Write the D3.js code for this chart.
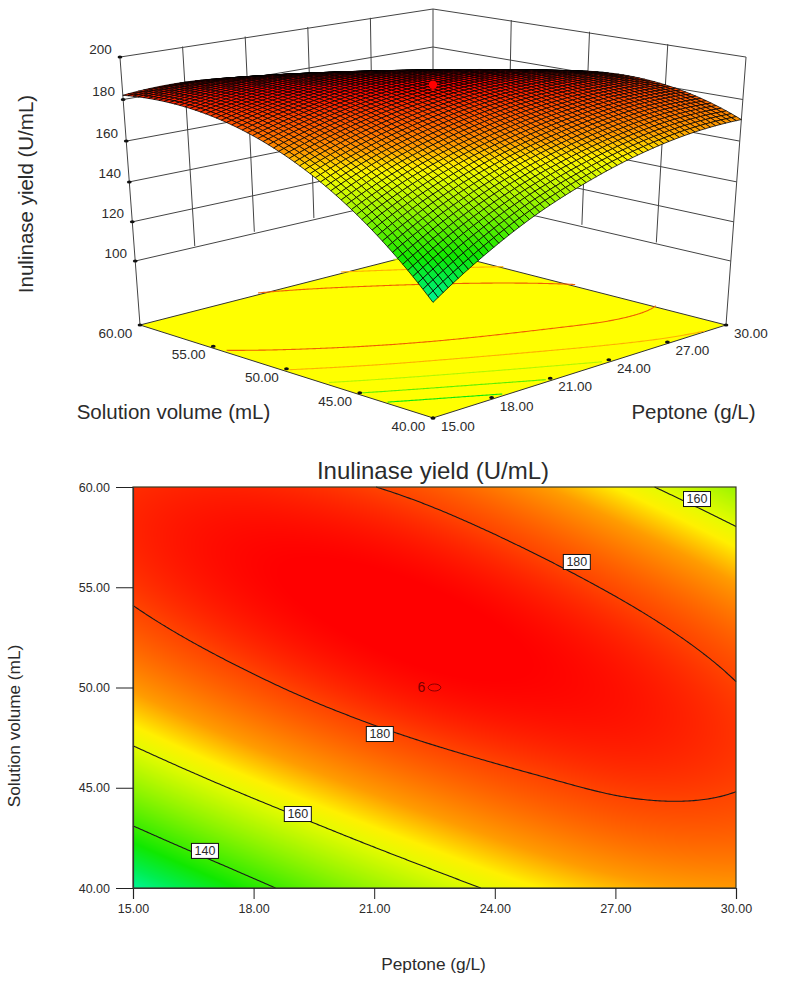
<!DOCTYPE html>
<html>
<head>
<meta charset="utf-8">
<script src="https://cdnjs.cloudflare.com/ajax/libs/d3/7.8.5/d3.min.js"></script>
<style>
html,body{margin:0;padding:0;background:#fff}
svg{display:block}
text{font-family:"Liberation Sans",Arial,sans-serif;fill:#2b2b2b}
</style>
</head>
<body>
<svg id="chart" width="787" height="982"></svg>
<script>
// Values (contours, corners) at a coarse grid of levels.
const peptoneLevels = [15, 17.5, 20, 22.5, 25, 27.5, 30];
const volumeLevels = [40, 45, 50, 55, 60];
const yieldAt40 = [120.2, 134.6, 146.8, 156.3, 163.7, 168.6, 170.4];
const yieldAt45 = [150.3, 160.5, 168.4, 174.4, 178.6, 180.9, 180.2];
const yieldAt50 = [170.6, 177.4, 182.3, 185.2, 185.7, 184.2, 180.3];
const yieldAt55 = [181.2, 184.9, 186.5, 185.9, 183.0, 177.9, 170.6];
const yieldAt60 = [182.0, 183.0, 181.3, 177.5, 170.9, 161.9, 151.2];
const yieldRows = [yieldAt40, yieldAt45, yieldAt50, yieldAt55, yieldAt60];

const peptoneTicks = [15, 18, 21, 24, 27, 30];
const volumeTicks = [40, 45, 50, 55, 60];
const yieldTicks = [100, 120, 140, 160, 180, 200];
const mapLevels = [140, 160, 180];
const floorLevels = [140, 150, 160, 170, 180];
const mapLabels = [
  {level: 160, peptone: 29.03, volume: 59.4},
  {level: 180, peptone: 26.04, volume: 56.26},
  {level: 180, peptone: 21.14, volume: 47.68},
  {level: 160, peptone: 19.1, volume: 43.69},
  {level: 140, peptone: 16.79, volume: 41.85}
];
const centerPoint = {peptone: 22.5, volume: 50, runs: "6", yield: 187};
const colorStops = [120, 127, 135, 150, 160, 164, 170, 180, 186];
const colorValues = ["#00f59a", "#00ee50", "#10e800", "#90f400", "#e4fb00", "#fff000", "#ff9c00", "#ff4400", "#ff0000"];

// Smooth read-out of the grid for drawing (Catmull-Rom between the typed values).
function cr(p0, p1, p2, p3, t) {
  return 0.5 * (2 * p1 + (p2 - p0) * t + (2 * p0 - 5 * p1 + 4 * p2 - p3) * t * t + (3 * p1 - p0 - 3 * p2 + p3) * t * t * t);
}
function interp1(arr, u) {
  const n = arr.length;
  let i = Math.min(n - 2, Math.max(0, Math.floor(u)));
  const t = u - i;
  const g = k => k < 0 ? 3 * arr[0] - 3 * arr[1] + arr[2]
    : k >= n ? 3 * arr[n - 1] - 3 * arr[n - 2] + arr[n - 3] : arr[k];
  return cr(g(i - 1), g(i), g(i + 1), g(i + 2), t);
}
const pIndex = d3.scaleLinear().domain(d3.extent(peptoneLevels)).range([0, peptoneLevels.length - 1]);
const vIndex = d3.scaleLinear().domain(d3.extent(volumeLevels)).range([0, volumeLevels.length - 1]);
function sample(p, v) {
  const u = pIndex(p);
  return interp1(yieldRows.map(r => interp1(r, u)), vIndex(v));
}

const color = d3.scaleLinear().domain(colorStops).range(colorValues).interpolate(d3.interpolateRgb).clamp(true);
const svg = d3.select("#chart");
const lineCol = "#444";

// Contour lines without the border rings
function contourChains(level, nx, ny) {
  const pScale = d3.scaleLinear().domain([0, nx - 1]).range([15, 30]);
  const vScale = d3.scaleLinear().domain([0, ny - 1]).range([40, 60]);
  const vals = new Float64Array(nx * ny);
  for (let j = 0; j < ny; j++) {
    for (let i = 0; i < nx; i++) vals[j * nx + i] = sample(pScale(i), vScale(j));
  }
  const c = d3.contours().size([nx, ny]).thresholds([level])(vals)[0];
  const chains = [];
  const clampIdx = (x, n) => Math.max(0, Math.min(n - 1, x - 0.5));
  c.coordinates.forEach(poly => poly.forEach(ring => {
    const pts = ring.map(q => [clampIdx(q[0], nx), clampIdx(q[1], ny)]);
    const edge = q => q[0] <= 0 || q[0] >= nx - 1 || q[1] <= 0 || q[1] >= ny - 1;
    let cur = [];
    for (let i = 0; i < pts.length - 1; i++) {
      if (edge(pts[i]) && edge(pts[i + 1])) {
        if (cur.length) { chains.push(cur); cur = []; }
      } else {
        if (!cur.length) cur.push(pts[i]);
        cur.push(pts[i + 1]);
      }
    }
    if (cur.length) chains.push(cur);
  }));
  return chains.map(ch => ch.map(q => [pScale(q[0]), vScale(q[1])]));
}

/* ---------- 3D panel ---------- */
const aScale = d3.scaleLinear().domain([15, 30]).range([-1, 1]);
const bScale = d3.scaleLinear().domain([40, 60]).range([-1, 1]);
const zScale = d3.scaleLinear().domain([66.5, 200]).range([0, 1]);
function project(p, v, y) {
  const a = aScale(p), b = bScale(v), z = zScale(y);
  const r = (a - b) / 2, d = (a + b) / 2;
  const X = 433 + 293 * r / (1 - 0.064 * z);
  const w = 1 + 0.107 * d - 0.064 * z;
  const Y = (325 - 48.2 * d - 271.6 * z + 4.2 * d * z) / w;
  return [X, Y];
}
const g3 = svg.append("g");
const line3 = d3.line();
const floorValue = 66.5;

// floor
g3.append("path")
  .attr("d", line3([[15, 40], [30, 40], [30, 60], [15, 60], [15, 40]].map(q => project(q[0], q[1], floorValue))) + "Z")
  .attr("fill", "#ffff00").attr("stroke", "#333").attr("stroke-width", 1);

// floor contours
floorLevels.forEach(level => {
  contourChains(level, 241, 161).forEach(ch => {
    g3.append("path")
      .attr("d", line3(ch.map(q => project(q[0], q[1], floorValue))))
      .attr("fill", "none")
      .attr("stroke", level >= 180 ? "#f06000" : level >= 170 ? "#ffb000" : color(level - 6))
      .attr("stroke-width", 1.1);
  });
});

// walls: horizontals
const wall = g3.append("g").attr("fill", "none").attr("stroke", lineCol).attr("stroke-width", 1);
yieldTicks.forEach(y => {
  wall.append("path").attr("d", line3([[15, 60, y], [30, 60, y], [30, 40, y]].map(q => project(q[0], q[1], q[2]))));
});
// walls: verticals at the inner ticks
peptoneTicks.slice(1, -1).forEach(p => {
  wall.append("path").attr("d", line3([[p, 60, 100], [p, 60, 200]].map(q => project(q[0], q[1], q[2]))));
});
volumeTicks.slice(1, -1).forEach(v => {
  wall.append("path").attr("d", line3([[30, v, 100], [30, v, 200]].map(q => project(q[0], q[1], q[2]))));
});
// walls: corner posts
[[15, 60], [30, 60], [30, 40]].forEach(q => {
  wall.append("path").attr("d", line3([project(q[0], q[1], floorValue), project(q[0], q[1], 200)]));
});

// ticks (dots)
const dots = g3.append("g").attr("fill", "#111");
peptoneTicks.forEach(p => { const q = project(p, 40, floorValue); dots.append("ellipse").attr("cx", q[0]).attr("cy", q[1]).attr("rx", 2.4).attr("ry", 1.5); });
volumeTicks.forEach(v => { const q = project(15, v, floorValue); dots.append("ellipse").attr("cx", q[0]).attr("cy", q[1]).attr("rx", 2.4).attr("ry", 1.5); });
yieldTicks.forEach(y => { const q = project(15, 60, y); dots.append("ellipse").attr("cx", q[0]).attr("cy", q[1]).attr("rx", 2.4).attr("ry", 1.5); });

// mesh
const cells = 60;
const pMesh = d3.scaleLinear().domain([0, cells]).range([15, 30]);
const vMesh = d3.scaleLinear().domain([0, cells]).range([40, 60]);
const verts = d3.range(cells + 1).map(j => d3.range(cells + 1).map(i => {
  const p = pMesh(i), v = vMesh(j), y = sample(p, v);
  return {y, xy: project(p, v, y)};
}));
const quads = [];
for (let j = 0; j < cells; j++) for (let i = 0; i < cells; i++) {
  const c = [verts[j][i], verts[j][i + 1], verts[j + 1][i + 1], verts[j + 1][i]];
  quads.push({order: i + j, pts: c.map(k => k.xy), y: d3.mean(c, k => k.y)});
}
quads.sort((A, B) => B.order - A.order);
g3.append("g").selectAll("path").data(quads).join("path")
  .attr("d", d => line3(d.pts) + "Z")
  .attr("fill", d => color(d.y))
  .attr("stroke", "#000").attr("stroke-width", 0.75);

// design point
const cp = project(centerPoint.peptone, centerPoint.volume, centerPoint.yield);
g3.append("circle").attr("cx", cp[0]).attr("cy", cp[1]).attr("r", 4.2).attr("fill", "#ff0000");

// 3D labels
const fmt2 = d3.format(".2f");
function t3(x, y, s, size) {
  return g3.append("text").attr("x", x).attr("y", y).attr("text-anchor", "middle").attr("dominant-baseline", "central")
    .attr("font-size", size).text(s);
}
yieldTicks.forEach(y => { const q = project(15, 60, y); t3(q[0] - 19.5, q[1] - 8, y, 13.5); });
volumeTicks.forEach(v => { const q = project(15, v, floorValue); t3(q[0] - 24.5, q[1] + 8.5, fmt2(v), 13.5); });
peptoneTicks.forEach(p => { const q = project(p, 40, floorValue); t3(q[0] + 25, q[1] + 8.5, fmt2(p), 13.5); });
t3(173.5, 411, "Solution volume (mL)", 20.5);
t3(693.5, 411, "Peptone (g/L)", 20.5);
t3(0, 0, "Inulinase yield (U/mL)", 20.5).attr("transform", "translate(25,194) rotate(-90)");

/* ---------- contour map ---------- */
const x2 = d3.scaleLinear().domain([15, 30]).range([133, 736]);
const y2 = d3.scaleLinear().domain([40, 60]).range([888, 487]);
const W = 603, H = 401;
const cv = document.createElement("canvas"); cv.width = W; cv.height = H;
const ctx = cv.getContext("2d");
const img = ctx.createImageData(W, H);
for (let py = 0; py < H; py++) for (let px = 0; px < W; px++) {
  const col = d3.rgb(color(sample(x2.invert(133 + px + 0.5), y2.invert(487 + py + 0.5))));
  const o = (py * W + px) * 4;
  img.data[o] = col.r; img.data[o + 1] = col.g; img.data[o + 2] = col.b; img.data[o + 3] = 255;
}
ctx.putImageData(img, 0, 0);
const g2 = svg.append("g");
g2.append("image").attr("x", 133).attr("y", 487).attr("width", W).attr("height", H).attr("href", cv.toDataURL());

const line2 = d3.line().x(d => x2(d[0])).y(d => y2(d[1]));
mapLevels.forEach(level => {
  contourChains(level, 301, 201).forEach(ch => {
    g2.append("path").attr("d", line2(ch)).attr("fill", "none").attr("stroke", "#1a1a1a").attr("stroke-width", 1.1);
  });
});

// contour labels
mapLabels.forEach(l => {
  const gx = g2.append("g").attr("transform", `translate(${x2(l.peptone)},${y2(l.volume)})`);
  gx.append("rect").attr("x", -13.5).attr("y", -7.5).attr("width", 27).attr("height", 15)
    .attr("fill", "#fff").attr("stroke", "#111").attr("stroke-width", 1);
  gx.append("text").attr("text-anchor", "middle").attr("dominant-baseline", "central").attr("font-size", 12.5).text(l.level);
});
// design point with replicate count
g2.append("ellipse").attr("cx", x2(centerPoint.peptone)).attr("cy", y2(centerPoint.volume))
  .attr("rx", 6.3).attr("ry", 3.5).attr("fill", "none").attr("stroke", "#8a0000").attr("stroke-width", 1);
g2.append("text").attr("x", x2(centerPoint.peptone) - 13).attr("y", y2(centerPoint.volume) - 1)
  .attr("text-anchor", "middle").attr("dominant-baseline", "central").attr("font-size", 14).style("fill", "#7a0000").text(centerPoint.runs);

// axes and frame
g2.append("rect").attr("x", 133).attr("y", 487).attr("width", W).attr("height", H)
  .attr("fill", "none").attr("stroke", "#3a3a22").attr("stroke-width", 1.2);
const axB = d3.axisBottom(x2).tickValues(peptoneTicks).tickFormat(fmt2).tickSize(11).tickPadding(5);
const axL = d3.axisLeft(y2).tickValues(volumeTicks).tickFormat(fmt2).tickSize(17).tickPadding(6);
[g2.append("g").attr("transform", "translate(0,888)").call(axB),
 g2.append("g").attr("transform", "translate(133,0)").call(axL)].forEach(ax => {
  ax.selectAll("path.domain").attr("stroke", "#333").attr("stroke-width", 1.2);
  ax.selectAll("line").attr("stroke", "#222").attr("stroke-width", 1);
  ax.selectAll("text").attr("font-size", 12.5).attr("font-family", null);
});
function t2(x, y, s, size) {
  return g2.append("text").attr("x", x).attr("y", y).attr("text-anchor", "middle").attr("dominant-baseline", "central")
    .attr("font-size", size).text(s);
}
t2(433, 470, "Inulinase yield (U/mL)", 24);
t2(433.5, 964, "Peptone (g/L)", 17.3);
t2(0, 0, "Solution volume (mL)", 17.2).attr("transform", "translate(14,726) rotate(-90)");
</script>
</body>
</html>
